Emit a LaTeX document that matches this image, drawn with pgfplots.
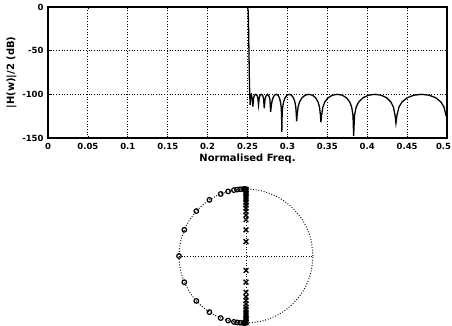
\documentclass[border=0pt]{standalone}
\usepackage{pgfplots}
\pgfplotsset{compat=1.18}
\usepackage{fontspec}
\setmainfont{DejaVu Sans}
\begin{document}
\begin{tikzpicture}[x=1bp,y=1bp]
\useasboundingbox (0,0) rectangle (452,325);
\begin{axis}[
  at={(48bp,187bp)}, anchor=south west,
  scale only axis, width=399bp, height=131bp,
  xmin=0, xmax=0.5, ymin=-150, ymax=0,
  xtick={0,0.05,...,0.5},
  xticklabels={0,0.05,0.1,0.15,0.2,0.25,0.3,0.35,0.4,0.45,\hbox to 0pt{\hss 0.5\kern-4bp}},
  ytick={-150,-100,-50,0},
  grid=major,
  major grid style={black, line width=0.9pt, dash pattern=on 0.9bp off 1.8bp},
  tick align=inside, major tick length=2.5bp,
  tick style={black, line width=0.8pt},
  axis line style={line width=1.1pt},
  /pgf/number format/assume math mode=true,
  tick label style={font=\fontsize{8.5}{9}\selectfont\bfseries},
  xticklabel style={yshift=-2bp},
  yticklabel style={xshift=-1bp},
  xlabel={Normalised Freq.},
  ylabel={|H(w)|/2 (dB)},
  xlabel style={font=\fontsize{10}{11}\selectfont\bfseries, yshift=3bp},
  ylabel style={font=\fontsize{10}{11}\selectfont\bfseries, yshift=-1bp},
]
\addplot[black, line width=1.3pt] coordinates {
(0,0) (0.25,0) (0.2508,-4) (0.2513,-20) (0.2518,-50) (0.2523,-80) (0.2528,-100)
(0.2533,-112) (0.2540,-101) (0.2548,-100) (0.2557,-104) (0.2567,-114)
(0.2577,-104) (0.2588,-101) (0.2603,-100) (0.2618,-101) (0.2629,-104) (0.2638,-112)
(0.2647,-104) (0.2658,-101) (0.2674,-100) (0.2690,-101) (0.2701,-105) (0.2710,-116)
(0.2719,-106) (0.2731,-102) (0.2750,-100) (0.2769,-102) (0.2781,-106) (0.2790,-120)
(0.2798,-113) (0.2807,-108) (0.2820,-104) (0.2837,-101) (0.2860,-100) (0.2883,-101)
(0.2900,-104) (0.2913,-108.7) (0.2922,-114.5) (0.2927,-124) (0.2930,-143)
(0.2934,-124) (0.2941,-114.5) (0.2952,-108.7) (0.2971,-103.9) (0.2995,-101) (0.3023,-100)
(0.3051,-101) (0.3075,-103.9) (0.3094,-108.7) (0.3105,-114.5) (0.3112,-124) (0.3116,-131)
(0.3122,-124) (0.3134,-114.5) (0.3152,-108.7) (0.3183,-103.9) (0.3222,-101) (0.3268,-100)
(0.3314,-101) (0.3353,-103.9) (0.3384,-108.7) (0.3402,-114.5) (0.3414,-124) (0.3420,-132)
(0.3428,-124) (0.3445,-114.5) (0.3469,-108.7) (0.3510,-103.9) (0.3564,-101) (0.3625,-100)
(0.3687,-101) (0.3740,-103.9) (0.3781,-108.7) (0.3805,-114.5) (0.3822,-124) (0.3830,-147.5)
(0.3841,-124) (0.3862,-114.5) (0.3894,-108.7) (0.3947,-103.9) (0.4016,-101) (0.4095,-100)
(0.4175,-101) (0.4243,-103.9) (0.4296,-108.7) (0.4328,-114.5) (0.4349,-124) (0.4360,-133)
(0.4373,-124) (0.4398,-114.5) (0.4437,-108.7) (0.4501,-103.9) (0.4584,-101) (0.4680,-100)
(0.4776,-101) (0.4859,-103.9) (0.4923,-108.7) (0.4962,-114.5) (0.4987,-124) (0.5000,-127)
};
\end{axis}
\begin{axis}[
  at={(246bp,69bp)}, anchor=center,
  x=67bp, y=67bp,
  xmin=-1, xmax=1, ymin=-1, ymax=1,
  hide axis, clip=false,
]
\addplot[black, line width=1.0pt, dash pattern=on 0.9bp off 1.8bp] coordinates {(-1,0) (1,0)};
\addplot[black, line width=1.0pt, dash pattern=on 0.9bp off 1.8bp] coordinates {(0,-1) (0,1)};
\addplot[black, line width=1.0pt, dash pattern=on 0.9bp off 1.8bp, smooth] coordinates {
(1,0) (0.9659,0.2588) (0.8660,0.5) (0.7071,0.7071) (0.5,0.8660) (0.2588,0.9659) (0,1)
(-0.2588,0.9659) (-0.5,0.8660) (-0.7071,0.7071) (-0.8660,0.5) (-0.9659,0.2588) (-1,0)
(-0.9659,-0.2588) (-0.8660,-0.5) (-0.7071,-0.7071) (-0.5,-0.8660) (-0.2588,-0.9659) (0,-1)
(0.2588,-0.9659) (0.5,-0.8660) (0.7071,-0.7071) (0.8660,-0.5) (0.9659,-0.2588) (1,0)
};
\addplot[only marks, mark=o, mark size=2.3bp, mark options={line width=1.2pt}, black] coordinates {
(-1,0)
(-0.9205,0.3907) (-0.7420,0.6704) (-0.5461,0.8377) (-0.3778,0.9259) (-0.2672,0.9636)
(-0.1805,0.9836) (-0.1323,0.9912) (-0.0872,0.9962) (-0.0419,0.9991) (-0.0209,0.9998) (-0.0087,1.0)
(-0.9205,-0.3907) (-0.7420,-0.6704) (-0.5461,-0.8377) (-0.3778,-0.9259) (-0.2672,-0.9636)
(-0.1805,-0.9836) (-0.1323,-0.9912) (-0.0872,-0.9962) (-0.0419,-0.9991) (-0.0209,-0.9998) (-0.0087,-1.0)
};
\addplot[only marks, mark=x, mark size=3.3bp, mark options={line width=1.3pt}, black] coordinates {
(0,0.215) (0,0.39) (0,0.54) (0,0.61) (0,0.665) (0,0.715) (0,0.76) (0,0.80) (0,0.835) (0,0.865) (0,0.89) (0,0.915) (0,0.935) (0,0.955) (0,0.97) (0,0.985) (0,0.995)
(0,-0.215) (0,-0.39) (0,-0.54) (0,-0.61) (0,-0.665) (0,-0.715) (0,-0.76) (0,-0.80) (0,-0.835) (0,-0.865) (0,-0.89) (0,-0.915) (0,-0.935) (0,-0.955) (0,-0.97) (0,-0.985) (0,-0.995)
};
\end{axis}
\end{tikzpicture}
\end{document}
